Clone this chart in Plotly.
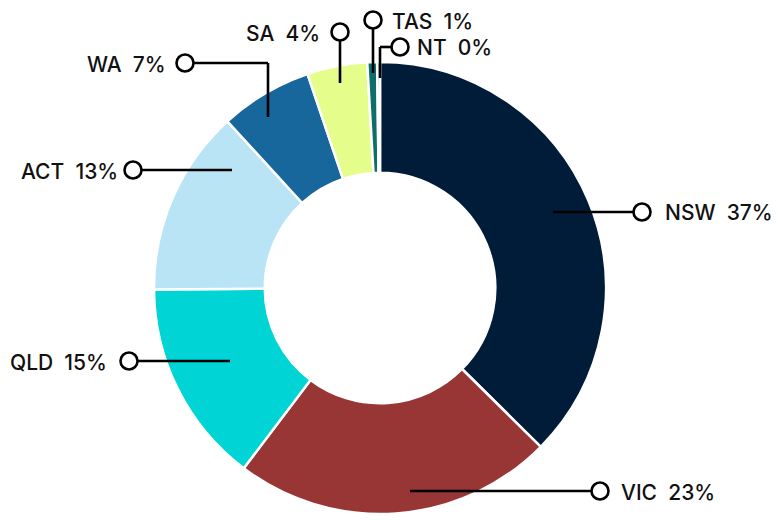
import plotly.graph_objects as go

# ---- data ----
states = ["NSW", "VIC", "QLD", "ACT", "WA", "SA", "TAS", "NT"]
shares = [37.4, 22.9, 14.6, 13.3, 6.6, 4.3, 0.7, 0.2]
share_labels = ["37%", "23%", "15%", "13%", "7%", "4%", "1%", "0%"]
colors = ["#011c38", "#983535", "#00d4d4", "#b8e4f6", "#17669c", "#e4fd8b", "#0e6e6a", "#0b3d4a"]

W, H = 780, 520
OFF = 8  # page body margin offset
CX, CY, R = 380, 288, 226

# leader routing (pixel layout): path points from slice to the circle, then text side
leaders = {
    "NSW": dict(path=[(553, 212), (642, 212)], side="right", text=(663, 213)),
    "VIC": dict(path=[(410, 491), (600, 491)], side="right", text=(619, 492)),
    "QLD": dict(path=[(230, 361), (129, 361)], side="left", text=(109, 362)),
    "ACT": dict(path=[(232, 170), (133, 170)], side="left", text=(120, 171)),
    "WA": dict(path=[(268, 117), (268, 63), (185, 63)], side="left", text=(168, 64)),
    "SA": dict(path=[(340, 83), (340, 32)], side="left", text=(322, 33)),
    "TAS": dict(path=[(373, 73), (373, 20)], side="right", text=(390, 21)),
    "NT": dict(path=[(380, 78), (380, 47), (400, 47)], side="right", text=(415, 48)),
}

def px(x):
    return (x - OFF) / W

def py(y):
    return 1 - (y - OFF) / H

fig = go.Figure()
fig.add_trace(go.Pie(
    labels=states,
    values=shares,
    sort=False,
    direction="clockwise",
    rotation=0,
    hole=0.51,
    marker=dict(colors=colors, line=dict(color="white", width=2.5)),
    textinfo="none",
    hoverinfo="label+percent",
    showlegend=False,
    domain=dict(x=[px(CX - R), px(CX + R)], y=[py(CY + R), py(CY - R)]),
))

shapes = []
annotations = []
for name, lab in zip(states, share_labels):
    cfg = leaders[name]
    pts = cfg["path"]
    for (x0, y0), (x1, y1) in zip(pts[:-1], pts[1:]):
        shapes.append(dict(type="line", xref="paper", yref="paper",
                           x0=px(x0), y0=py(y0), x1=px(x1), y1=py(y1),
                           line=dict(color="black", width=2.6), layer="above"))
for name, lab in zip(states, share_labels):
    cfg = leaders[name]
    ex, ey = cfg["path"][-1]
    shapes.append(dict(type="circle", xref="paper", yref="paper",
                       xsizemode="pixel", ysizemode="pixel",
                       xanchor=px(ex), yanchor=py(ey),
                       x0=-8.5, x1=8.5, y0=-8.5, y1=8.5,
                       fillcolor="white", line=dict(color="black", width=2.6),
                       layer="above"))
    tx, ty = cfg["text"]
    annotations.append(dict(
        x=px(tx), y=py(ty), xref="paper", yref="paper",
        text=name + "\u00a0\u00a0" + lab, showarrow=False,
        xanchor="left" if cfg["side"] == "right" else "right",
        yanchor="middle",
        font=dict(family="Inter", size=21, weight=500, color="#111111"),
    ))

fig.update_layout(
    width=W, height=H,
    margin=dict(l=0, r=0, t=0, b=0),
    paper_bgcolor="white",
    plot_bgcolor="white",
    shapes=shapes,
    annotations=annotations,
)

fig.write_html("out.html")
